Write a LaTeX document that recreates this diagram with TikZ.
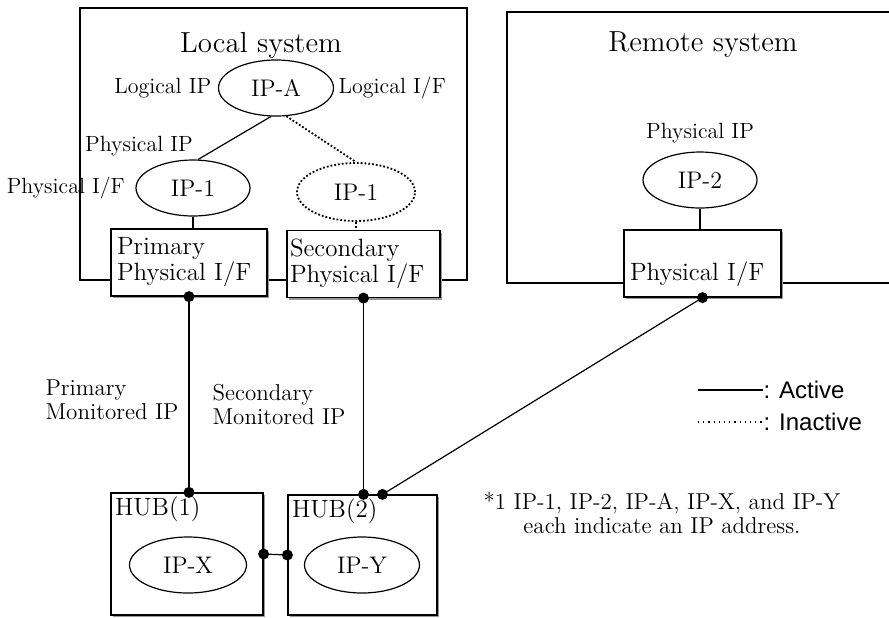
\documentclass[tikz,border=0pt]{standalone}
\usepackage{fontspec}
\newfontfamily\legendfont{Liberation Sans}
\usetikzlibrary{shapes.geometric,positioning,shadows}

\begin{document}
\begin{tikzpicture}[
        x=0.5pt, y=-0.5pt,
        line width=0.6pt,
        every node/.style={inner sep=1pt},
        lbl/.style={font=\fontsize{11}{12}\selectfont},
        title/.style={font=\fontsize{14.5}{16}\selectfont},
        addr/.style={draw, ellipse, fill=white,
            font=\fontsize{12}{13}\selectfont,
            minimum width=57pt, minimum height=28pt},
        idle/.style={densely dotted, line width=0.9pt},
        ifbox/.style={draw, fill=white, rectangle,
            drop shadow={shadow xshift=1.2pt, shadow yshift=-1.2pt,
                fill=black!40, opacity=1},
            font=\fontsize{12.5}{11.5}\selectfont, align=left,
            inner xsep=3pt, text width=72pt, minimum height=33.5pt},
        hubbox/.style={draw, fill=white, rectangle,
            drop shadow={shadow xshift=1.2pt, shadow yshift=-1.2pt,
                fill=black!40, opacity=1},
            minimum width=75pt, minimum height=60pt},
        hubname/.style={anchor=north west, inner sep=2pt,
            font=\fontsize{12.5}{13}\selectfont},
        port/.style={circle, fill=black, inner sep=0pt, minimum size=5.5pt},
        legend/.style={font=\legendfont\fontsize{12}{14}\selectfont, anchor=west, inner sep=0pt}
    ]
    \useasboundingbox (0,0) rectangle (889,617);

    % system frames
    \draw (80,8) rectangle (467,280);
    \draw (889,12) -- (507,12) -- (507,283) -- (889,283);

    \node[title] (loc) at (261,45) {Local system};
    \node[title] (rem) at (703,45) {Remote system};

    \node[addr, minimum width=57.5pt] (ipa) at (276,88) {IP-A};
    \node[lbl, left=2pt of ipa] (logip) {Logical IP};
    \node[lbl, right=1pt of ipa] (logif) {Logical I/F};
    \node[addr] (ip1) at (193,188) {IP-1};
    \node[addr, idle, minimum width=59pt, minimum height=29pt] (ip1b) at (356,192) {IP-1};
    \node[lbl] (phip) at (139,146) {Physical IP};
    \node[lbl, left=4pt of ip1] (phif) {Physical I/F};

    \node[ifbox] (pri) at (189,262.5) {Primary\\Physical I/F};
    \node[ifbox, inner xsep=1.5pt, text width=73.5pt] (sec) at (363.5,264) {Secondary\\Physical I/F};

    \node[addr] (ip2) at (700,180) {IP-2};
    \node[lbl, above=3pt of ip2] (rphip) {Physical IP};
    \node[ifbox, inner ysep=0pt, text height=25pt, text depth=8.5pt,
        minimum height=0pt, text width=72.5pt] (rif) at (702.5,263.5) {Physical I/F};

    \node[hubbox, minimum width=76pt, minimum height=61pt,
        label={[hubname]north west:HUB(1)}] (hub1) at (187,554) {};
    \node[hubbox, minimum width=74.5pt,
        label={[hubname]north west:HUB(2)}] (hub2) at (362.5,555) {};
    \node[addr, minimum width=58.5pt] (ipx) at (188,565) {IP-X};
    \node[addr, minimum width=57.5pt] (ipy) at (362,565) {IP-Y};

    % links
    \draw (ipa.260) -- (ip1.80);
    \draw[idle] (ipa.290) -- (ip1b.north);
    \draw (ip1.south) -- (ip1.south |- pri.north);
    \draw[idle] (ip1b.south) -- (ip1b.south |- sec.north);
    \draw (ip2.south) -- (ip2.south |- rif.north);

    \coordinate (h2b) at ([xshift=10pt]hub2.north);
    \draw (pri.south) -- (pri.south |- hub1.north);
    \draw (sec.south) -- (sec.south |- hub2.north);
    \draw (rif.south) -- (h2b);
    \draw (hub1.east) -- (hub2.west);
    \foreach \p in {pri.south, sec.south, rif.south, h2b, hub1.east, hub2.west}
        \node[port] at (\p) {};
    \node[port] at (pri.south |- hub1.north) {};
    \node[port] at (sec.south |- hub2.north) {};

    \node[lbl, anchor=west, align=left, font=\fontsize{11.5}{12}\selectfont] (pmon) at (43,400) {Primary\\Monitored IP};
    \node[lbl, anchor=west, align=left, font=\fontsize{11.5}{12}\selectfont] (smon) at (210,405) {Secondary\\Monitored IP};

    % legend
    \coordinate (act) at (698,390);
    \coordinate (ina) at (698,422);
    \draw (act) -- ++(65,0) node[legend] (actl) {: Active};
    \draw[line width=1.3pt] (act) -- ++(33,0);
    \draw[dotted] (ina) -- ++(65,0) node[legend] (inal) {: Inactive};

    \node[lbl, align=center, font=\fontsize{11.5}{12}\selectfont] (note) at (662,513)
        {*1 IP-1, IP-2, IP-A, IP-X, and IP-Y\\each indicate an IP address.};
\end{tikzpicture}
\end{document}
